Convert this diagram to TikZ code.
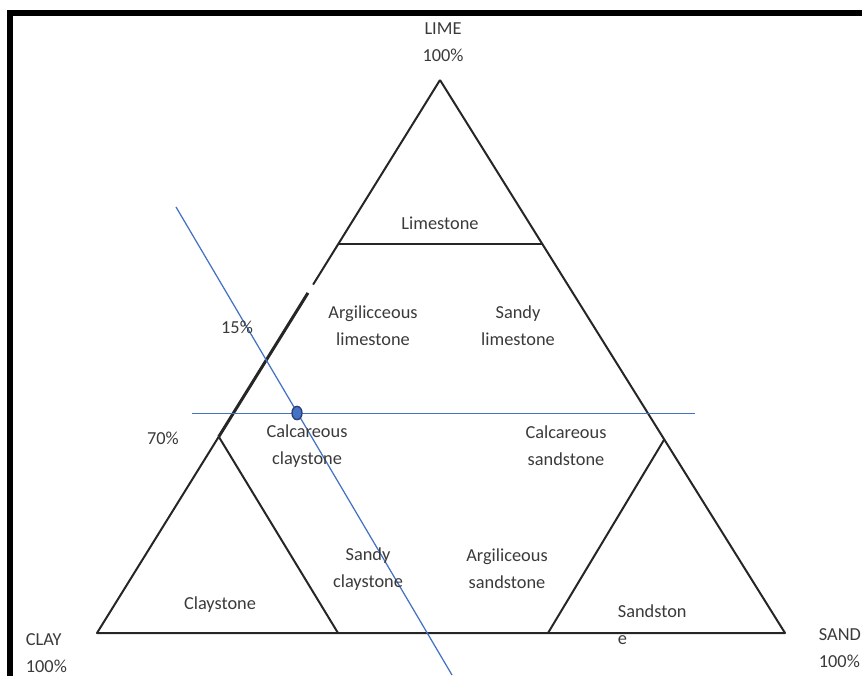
\documentclass[tikz,border=0pt]{standalone}
\usepackage{fontspec}
\setmainfont{Carlito}
\usetikzlibrary{calc,shapes.geometric}

\definecolor{txtgray}{RGB}{58,58,58}
\definecolor{lineblue}{RGB}{68,114,196}
\definecolor{dotedge}{RGB}{40,66,120}

\begin{document}
\begin{tikzpicture}[x=0.6pt, y=-0.6pt,
		every node/.style={font=\fontsize{11}{16}\selectfont, text=txtgray, align=center},
		edge/.style={line width=1.2pt, black!85, line join=round},
		guide/.style={line width=0.75pt, lineblue},
		dot/.style={ellipse, draw=dotedge, fill=lineblue, line width=0.8pt, minimum width=6pt, minimum height=8pt, inner sep=0pt}]
	\useasboundingbox (0,0) rectangle (862,675);
	\clip (0,0) rectangle (862,675);
	\draw[line width=3.6pt] (10,13) rectangle (900,720);

	% corners and the cut points on the sides
	\coordinate (top) at (440,80);
	\coordinate (left) at (97,633);
	\coordinate (right) at (785,633);
	\coordinate (lsL) at ($(top)!0.2966!(left)$);
	\coordinate (lsR) at ($(top)!0.2966!(right)$);
	\coordinate (gapA) at ($(top)!0.37!(left)$);
	\coordinate (gapB) at ($(top)!0.385!(left)$);
	\coordinate (cL) at ($(top)!0.645!(left)$);
	\coordinate (cR) at ($(top)!0.65!(right)$);
	\coordinate (b1) at (338,633);
	\coordinate (b2) at (548,633);

	% triangle and fields
	\draw[edge] (top) -- (gapA);
	\draw[edge, line width=1.8pt] (gapB) -- (cL);
	\draw[edge] (cL) -- (left) -- (right) -- (top);
	\draw[edge] (lsL) -- (lsR);
	\draw[edge] (cL) -- (b1);
	\draw[edge] (cR) -- (b2);

	% reading lines
	\coordinate (h1) at (192,413.4);
	\coordinate (h2) at (695,413.4);
	\coordinate (d1) at (176,207);
	\coordinate (d2) at (452,675);
	\draw[guide] (h1) -- (h2);
	\draw[guide] (d1) -- (d2);
	\node[dot] (mix) at (297,413) {};

	% poles
	\node (lime) at (443,42) {LIME\\100\%};
	\node[anchor=west, align=left] (clay) at (20,653) {CLAY\\100\%};
	\node[anchor=west, align=left] (sand) at (813,648) {SAND\\100\%};
	\node (p15) at (237,327) {15\%};
	\node (p70) at (163,438) {70\%};

	% rock names
	\node (limestone) at (440,223) {Limestone};
	\node (arglime) at (373,326) {Argilicceous\\limestone};
	\node (sandlime) at (518,326) {Sandy\\limestone};
	\node (calcclay) at (307,446) {Calcareous\\claystone};
	\node (calcsand) at (566,446) {Calcareous\\sandstone};
	\node (sandclay) at (368,569) {Sandy\\claystone};
	\node (argsand) at (507,569) {Argiliceous\\sandstone};
	\node (claystone) at (220,605) {Claystone};
	\node[anchor=west, align=left] (sandstone) at (612,625) {Sandston\\e};
\end{tikzpicture}
\end{document}
